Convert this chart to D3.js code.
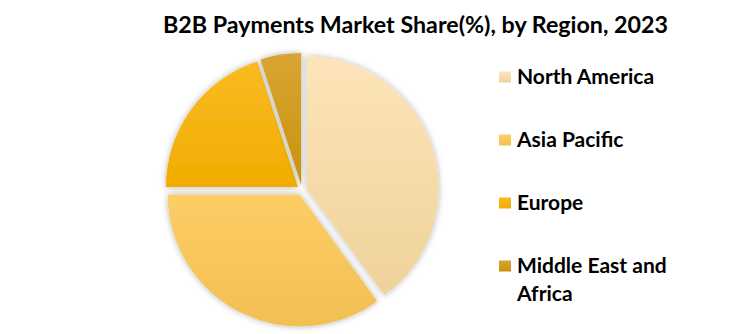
<!DOCTYPE html>
<html>
<head>
<meta charset="utf-8">
<script src="https://cdn.jsdelivr.net/npm/d3@7"></script>
<style>
  body { margin: 0; background: #fff; }
  text { font-family: Lato, "Open Sans", sans-serif; font-weight: bold; fill: #000; }
</style>
</head>
<body>
<svg width="734" height="334"></svg>
<script>
var regions = ['North America', 'Asia Pacific', 'Europe', 'Middle East and Africa'];
var shares = [40, 35, 20, 5];
var topColors = ['#fde5ba', '#fdcd66', '#fabb22', '#d9a532'];
var bottomColors = ['#efd29a', '#f2bf52', '#f0ad00', '#c8920e'];

var svg = d3.select('svg');
var cx = 302, cy = 190, radius = 132, explode = 5;

var defs = svg.append('defs');

var shadow = defs.append('filter')
    .attr('id', 'shadow')
    .attr('x', '-20%').attr('y', '-20%')
    .attr('width', '140%').attr('height', '140%');
shadow.append('feDropShadow')
    .attr('dx', 0).attr('dy', 0)
    .attr('stdDeviation', 3)
    .attr('flood-color', '#000')
    .attr('flood-opacity', 0.3);

regions.forEach(function(r, i) {
  var g = defs.append('linearGradient')
      .attr('id', 'grad' + i)
      .attr('x1', 0).attr('y1', 0).attr('x2', 0).attr('y2', 1);
  g.append('stop').attr('offset', '0%').attr('stop-color', topColors[i]);
  g.append('stop').attr('offset', '100%').attr('stop-color', bottomColors[i]);
});

svg.append('text')
    .attr('x', 163)
    .attr('y', 33)
    .attr('textLength', 505)
    .attr('lengthAdjust', 'spacingAndGlyphs')
    .style('font-size', '22px')
    .text('B2B Payments Market Share(%), by Region, 2023');

var pie = d3.pie().sort(null).value(function(d) { return d; });
var arc = d3.arc().innerRadius(0).outerRadius(radius);
var arcs = pie(shares);

var pieG = svg.append('g')
    .attr('transform', 'translate(' + [cx, cy] + ')');

pieG.selectAll('path')
    .data(arcs)
    .enter()
    .append('path')
    .attr('d', arc)
    .attr('transform', function(d) {
      var a = (d.startAngle + d.endAngle) / 2;
      return 'translate(' + [Math.sin(a) * explode, -Math.cos(a) * explode] + ')';
    })
    .attr('fill', function(d, i) { return 'url(#grad' + i + ')'; })
    .attr('filter', 'url(#shadow)');

var legendY = d3.scalePoint()
    .domain(regions)
    .range([77, 266]);

var legend = svg.append('g');
var items = legend.selectAll('g')
    .data(regions)
    .enter()
    .append('g')
    .attr('transform', function(d) { return 'translate(499,' + legendY(d) + ')'; });

items.append('rect')
    .attr('x', 0).attr('y', -5.5)
    .attr('width', 12).attr('height', 11)
    .attr('fill', function(d, i) { return 'url(#grad' + i + ')'; });

items.append('text')
    .attr('x', 18)
    .attr('dy', '0.35em')
    .style('font-size', '21px')
    .each(function(d) {
      var t = d3.select(this);
      if (d === 'Middle East and Africa') {
        t.append('tspan').attr('x', 18).text('Middle East and');
        t.append('tspan').attr('x', 18).attr('dy', 28).text('Africa');
      } else {
        t.text(d);
      }
    });
</script>
</body>
</html>
